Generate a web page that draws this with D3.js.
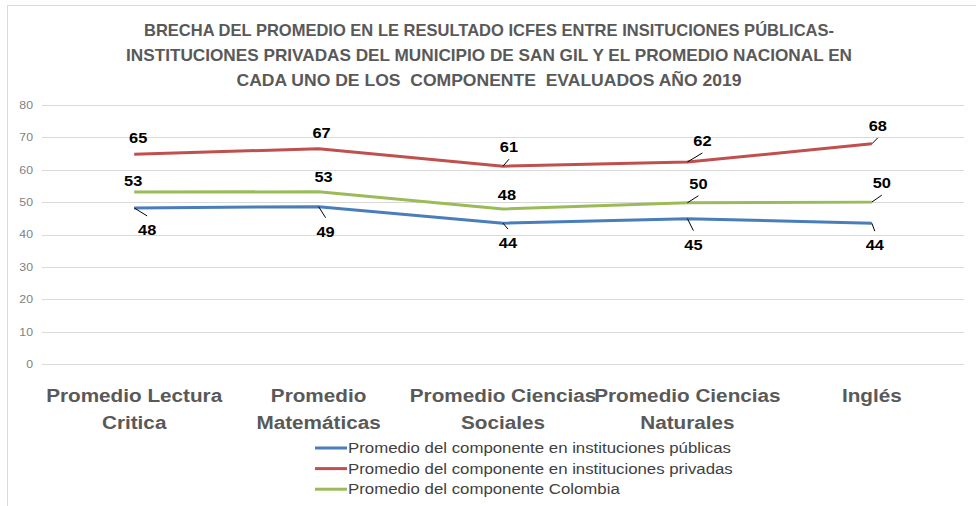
<!DOCTYPE html>
<html>
<head>
<meta charset="utf-8">
<script src="https://cdn.jsdelivr.net/npm/d3@7"></script>
<style>
  body { margin: 0; background: #fff; }
  svg { display: block; font-family: "Liberation Sans", Arial, sans-serif; }
</style>
</head>
<body>
<svg width="976" height="506"></svg>
<script>
var titulo = [
  "BRECHA DEL PROMEDIO EN LE RESULTADO ICFES ENTRE INSITUCIONES PÚBLICAS-",
  "INSTITUCIONES PRIVADAS DEL MUNICIPIO DE SAN GIL Y EL PROMEDIO NACIONAL EN",
  "CADA UNO DE LOS  COMPONENTE  EVALUADOS AÑO 2019"
];
var categorias = [
  ["Promedio Lectura", "Critica"],
  ["Promedio", "Matemáticas"],
  ["Promedio Ciencias", "Sociales"],
  ["Promedio Ciencias", "Naturales"],
  ["Inglés"]
];
var publicas = [48.2, 48.6, 43.5, 44.9, 43.5];
var privadas = [64.8, 66.5, 61.1, 62.4, 68.0];
var colombia = [53.1, 53.2, 47.9, 49.8, 50.0];
var yTicks = [0, 10, 20, 30, 40, 50, 60, 70, 80];
var nombres = [
  "Promedio del componente en instituciones públicas",
  "Promedio del componente en instituciones privadas",
  "Promedio del componente Colombia"
];

// label placement (pixel offsets from the point) and leader lines
var series = [
  { valores: publicas, color: "#4a7ebb",
    off: [[13, 22], [7, 25], [5, 20], [6, 26], [3, 22]],
    guia: [true, true, true, true, true] },
  { valores: privadas, color: "#c0504d",
    off: [[4, -16], [3, -16], [6, -19], [15, -21], [6, -18]],
    guia: [false, false, true, true, true] },
  { valores: colombia, color: "#9bbb59",
    off: [[-1, -11], [5, -15], [4, -14], [11, -19], [10, -19]],
    guia: [false, false, false, true, true] }
];

// the glyphs in the picture are a bit wider than Arial
var stretch = function (k) {
  return function (sel) {
    sel.each(function () {
      var w = this.getComputedTextLength();
      d3.select(this).attr("textLength", w * k).attr("lengthAdjust", "spacingAndGlyphs");
    });
  };
};

var svg = d3.select("svg");

svg.append("rect")
    .attr("x", 7.5).attr("y", 5.5)
    .attr("width", 1000).attr("height", 1000)
    .attr("fill", "none").attr("stroke", "#d9d9d9");

var anchos = [690, 726, 505];
svg.append("g").selectAll("text")
  .data(titulo)
  .enter().append("text")
    .attr("x", 489)
    .attr("y", function (d, i) { return 36 + i * 25; })
    .attr("text-anchor", "middle")
    .attr("fill", "#595959")
    .attr("font-size", 17)
    .attr("font-weight", "bold")
    .style("white-space", "pre")
    .attr("textLength", function (d, i) { return anchos[i]; })
    .attr("lengthAdjust", "spacingAndGlyphs")
    .text(function (d) { return d; });

var x = d3.scaleBand().domain(d3.range(categorias.length)).range([42, 964]),
    y = d3.scaleLinear().domain([0, 80]).range([364, 105]);
var cx = function (i) { return x(i) + x.bandwidth() / 2; };

// gridlines
svg.append("g").selectAll("line")
  .data(yTicks)
  .enter().append("line")
    .attr("x1", 42).attr("x2", 964)
    .attr("y1", function (d) { return Math.round(y(d)) + 0.5; })
    .attr("y2", function (d) { return Math.round(y(d)) + 0.5; })
    .attr("stroke", "#d9d9d9").attr("stroke-width", 1);

var yAxis = svg.append("g")
    .attr("transform", "translate(33,0)")
    .call(d3.axisLeft(y).tickValues(yTicks).tickSize(0).tickPadding(0));
yAxis.select(".domain").remove();
yAxis.selectAll("text")
    .attr("fill", "#7f7f7f")
    .attr("font-size", 10.5)
    .attr("font-family", "Liberation Sans, Arial, sans-serif")
    .call(stretch(1.17));

// category labels
var cat = svg.append("g").selectAll("text")
  .data(categorias)
  .enter().append("text")
    .attr("text-anchor", "middle")
    .attr("fill", "#595959")
    .attr("font-size", 18)
    .attr("font-weight", "bold");
cat.selectAll("tspan")
  .data(function (d, i) { return d.map(function (t) { return { t: t, i: i }; }); })
  .enter().append("tspan")
    .attr("x", function (d) { return cx(d.i); })
    .attr("y", function (d, j) { return 402 + j * 27; })
    .text(function (d) { return d.t; });
cat.selectAll("tspan").call(stretch(1.15));

var linea = d3.line()
    .x(function (d, i) { return cx(i); })
    .y(function (d) { return y(d); });

series.forEach(function (s) {
  svg.append("path")
      .datum(s.valores)
      .attr("d", linea)
      .attr("fill", "none")
      .attr("stroke", s.color)
      .attr("stroke-width", 3)
      .attr("stroke-linejoin", "round");
});

series.forEach(function (s) {
  var g = svg.append("g");
  s.valores.forEach(function (v, i) {
    var px = cx(i), py = y(v), o = s.off[i];
    if (s.guia[i]) {
      g.append("line")
          .attr("x1", px).attr("y1", py)
          .attr("x2", px + o[0])
          .attr("y2", py + o[1] + (o[1] < 0 ? 12 : -14))
          .attr("stroke", "#000").attr("stroke-width", 1);
    }
    g.append("text")
        .attr("x", px + o[0])
        .attr("y", py + o[1] + 5)
        .attr("text-anchor", "middle")
        .attr("font-size", 14)
        .attr("font-weight", "bold")
        .attr("fill", "#000")
        .text(Math.round(v))
        .call(stretch(1.17));
  });
});

// legend
var ley = svg.append("g").selectAll("g")
  .data(nombres)
  .enter().append("g")
    .attr("transform", function (d, i) { return "translate(315," + (448 + i * 20.6) + ")"; });
ley.append("line")
    .attr("x1", 0).attr("x2", 32)
    .attr("stroke", function (d, i) { return series[i].color; })
    .attr("stroke-width", 3);
ley.append("text")
    .attr("x", 33)
    .attr("y", 5)
    .attr("font-size", 14)
    .attr("fill", "#404040")
    .text(function (d) { return d; })
    .call(stretch(1.2));
</script>
</body>
</html>
